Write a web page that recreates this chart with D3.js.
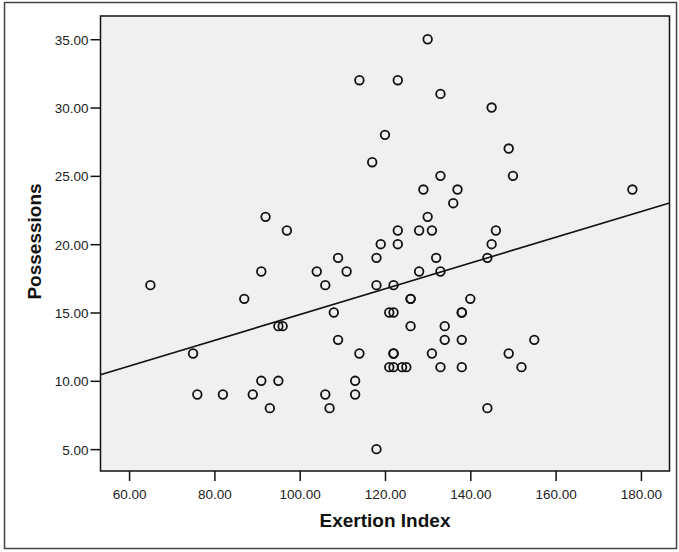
<!DOCTYPE html>
<html>
<head>
<meta charset="utf-8">
<script src="https://cdn.jsdelivr.net/npm/d3@7"></script>
<style>
  body { margin: 0; background: #fff; }
  svg { display: block; }
</style>
</head>
<body>
<svg></svg>
<script>
const WIDTH = 679;
const HEIGHT = 552;

// Exertion Index (x) and Possessions (y), one entry per case
const exertion = [
    65, 75, 76, 82, 87, 89, 91, 91, 92, 93,
    95, 96, 95, 97, 104, 106, 106, 107, 108, 109,
    109, 111, 113, 113, 114, 114, 117, 118, 118, 118,
    119, 120, 121, 121, 122, 122, 122, 122, 122, 123,
    123, 123, 124, 125, 126, 126, 126, 128, 128, 129,
    130, 130, 131, 131, 132, 133, 133, 133, 133, 134,
    134, 136, 137, 138, 138, 138, 138, 140, 144, 144,
    145, 145, 146, 149, 149, 150, 152, 155, 178
];
const possessions = [
    17, 12, 9, 9, 16, 9, 18, 10, 22, 8,
    14, 14, 10, 21, 18, 17, 9, 8, 15, 19,
    13, 18, 10, 9, 32, 12, 26, 19, 17, 5,
    20, 28, 15, 11, 17, 15, 12, 12, 11, 32,
    21, 20, 11, 11, 16, 16, 14, 21, 18, 24,
    35, 22, 21, 12, 19, 31, 25, 18, 11, 14,
    13, 23, 24, 15, 15, 13, 11, 16, 19, 8,
    30, 20, 21, 27, 12, 25, 11, 13, 24
];

const xTicks = [60, 80, 100, 120, 140, 160, 180];
const yTicks = [5, 10, 15, 20, 25, 30, 35];
const xDomain = [53.3, 186.7];
const yDomain = [3.4, 36.7];

const margin = {left: 100.5, top: 16, right: 9.5, bottom: 81};

function linearFit(xs, ys) {
    const mx = d3.mean(xs), my = d3.mean(ys);
    let sxy = 0, sxx = 0;
    xs.forEach((x, i) => {
        sxy += (x - mx) * (ys[i] - my);
        sxx += (x - mx) * (x - mx);
    });
    const slope = sxy / sxx;
    return {slope: slope, intercept: my - slope * mx};
}

function drawChart(svg) {
    svg.attr("width", WIDTH).attr("height", HEIGHT);

    const innerW = WIDTH - margin.left - margin.right;
    const innerH = HEIGHT - margin.top - margin.bottom;

    // outer frame
    svg.append("rect")
        .attr("x", 4.5).attr("y", 2.5)
        .attr("width", 672).attr("height", 546)
        .style("fill", "#fff")
        .style("stroke", "#444")
        .style("stroke-width", "1.5px");

    const g = svg.append("g")
        .attr("transform", `translate(${margin.left},${margin.top})`);

    const x = d3.scaleLinear().domain(xDomain).range([0, innerW]);
    const y = d3.scaleLinear().domain(yDomain).range([innerH, 0]);

    g.append("rect")
        .attr("width", innerW).attr("height", innerH)
        .style("fill", "#f0f0f0");

    const xAxis = g.append("g")
        .attr("transform", `translate(0,${innerH})`)
        .call(d3.axisBottom(x).tickValues(xTicks).tickSize(10).tickPadding(8)
            .tickFormat(d3.format(".2f")));

    const yAxis = g.append("g")
        .call(d3.axisLeft(y).tickValues(yTicks).tickSize(10).tickPadding(2)
            .tickFormat(d3.format(".2f")));

    [xAxis, yAxis].forEach(a => {
        a.select(".domain").remove();
        a.selectAll(".tick line").style("stroke", "#111").style("stroke-width", "1.5px");
        a.selectAll(".tick text")
            .style("font-family", "Arial, 'Liberation Sans', Helvetica")
            .style("font-size", "13.5px")
            .style("fill", "#222");
    });
    yAxis.selectAll(".tick text").attr("dy", "0.36em");

    // regression line across the plot area
    const fit = linearFit(exertion, possessions);
    g.append("line")
        .attr("x1", x(xDomain[0]))
        .attr("y1", y(fit.intercept + fit.slope * xDomain[0]))
        .attr("x2", x(xDomain[1]))
        .attr("y2", y(fit.intercept + fit.slope * xDomain[1]))
        .style("stroke", "#111")
        .style("stroke-width", "1.6px");

    g.selectAll("circle.pt")
        .data(exertion.map((d, i) => [d, possessions[i]]))
        .enter().append("circle")
        .attr("class", "pt")
        .attr("cx", d => x(d[0]))
        .attr("cy", d => y(d[1]))
        .attr("r", 4.3)
        .style("fill", "none")
        .style("stroke", "#111")
        .style("stroke-width", "1.8px");

    g.append("rect")
        .attr("width", innerW).attr("height", innerH)
        .style("fill", "none")
        .style("stroke", "#111")
        .style("stroke-width", "1.5px");

    g.append("text")
        .attr("x", innerW / 2)
        .attr("y", 526.5 - margin.top)
        .attr("text-anchor", "middle")
        .style("font-family", "Arial, 'Liberation Sans', Helvetica")
        .style("font-weight", "bold")
        .style("font-size", "19px")
        .style("fill", "#111")
        .text("Exertion Index");

    svg.append("text")
        .attr("transform", `translate(41,${margin.top + innerH / 2 - 2}) rotate(-90)`)
        .attr("text-anchor", "middle")
        .style("font-family", "Arial, 'Liberation Sans', Helvetica")
        .style("font-weight", "bold")
        .style("font-size", "19px")
        .style("fill", "#111")
        .text("Possessions");
}

drawChart(d3.select("svg"));
</script>
</body>
</html>
